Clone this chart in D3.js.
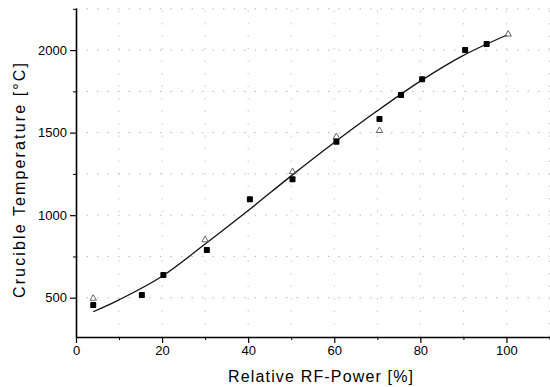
<!DOCTYPE html>
<html><head><meta charset="utf-8">
<script src="https://cdn.jsdelivr.net/npm/d3@7"></script>
<style>body{margin:0;background:#fff}svg{display:block}</style>
</head><body>
<script>
// Data
const powerA = [4, 15.3, 20.3, 30.4, 40.4, 50.3, 60.5, 70.5, 75.5, 80.4, 90.4, 95.4];
const tempA  = [456, 516, 637, 789, 1096, 1217, 1445, 1583, 1728, 1823, 2001, 2037];
const powerB = [4, 30, 50.3, 60.5, 70.5, 100.4];
const tempB  = [496, 850, 1263, 1475, 1512, 2096];
const fitX = [4, 10, 20, 30, 40, 50, 60, 70, 80, 90, 100];
const fitY = [415, 487, 630, 825, 1028, 1238, 1440, 1632, 1812, 1968, 2090];
const xTicks = [0, 20, 40, 60, 80, 100];
const yTicks = [500, 1000, 1500, 2000];
const xMinor = [10, 30, 50, 70, 90, 110];
const yMinor = [750, 1250, 1750, 2250];

const W = 550, H = 387;
const svg = d3.select("body").append("svg").attr("width", W).attr("height", H);
const x = d3.scaleLinear().domain([0, 110]).range([76, 549.5]);
const y = d3.scaleLinear().domain([262, 2255]).range([337, 8]);

// grid
const gridX = d3.range(10, 111, 10);
const gridY = d3.range(500, 2251, 250);
svg.append("g").selectAll("line").data(gridY).join("line")
  .attr("x1", x(0)).attr("x2", x(110)).attr("y1", d => y(d)).attr("y2", d => y(d))
  .attr("stroke", "#aaa").attr("stroke-width", 0.8).attr("stroke-dasharray", "1.5 9");
svg.append("g").selectAll("line").data(gridX).join("line")
  .attr("y1", y(262)).attr("y2", y(2255)).attr("x1", d => x(d)).attr("x2", d => x(d))
  .attr("stroke", "#bbb").attr("stroke-width", 0.8).attr("stroke-dasharray", "1.5 11");

// axes
const font = "Liberation Sans, Arial, sans-serif";
const xAxis = svg.append("g").attr("transform", `translate(0,${y(262)})`)
  .call(d3.axisBottom(x).tickValues(xTicks).tickFormat(d3.format("d")).tickSize(6).tickPadding(3).tickSizeOuter(0));
xAxis.select(".domain").attr("stroke-width", 1.6);
xAxis.selectAll("line").attr("stroke-width", 1.2);
xAxis.selectAll("text").attr("font-size", 13).attr("font-family", font).attr("fill", "#000");
svg.append("g").attr("transform", `translate(0,${y(262)})`)
  .call(d3.axisBottom(x).tickValues(xMinor).tickSize(3).tickFormat("").tickSizeOuter(0))
  .select(".domain").remove();

const yAxis = svg.append("g").attr("transform", `translate(${x(0)},0)`)
  .call(d3.axisLeft(y).tickValues(yTicks).tickFormat(d3.format("d")).tickSize(6).tickPadding(3).tickSizeOuter(0));
yAxis.select(".domain").attr("stroke-width", 1.6);
yAxis.selectAll("line").attr("stroke-width", 1.2);
yAxis.selectAll("text").attr("font-size", 13).attr("font-family", font).attr("fill", "#000");
svg.append("g").attr("transform", `translate(${x(0)},0)`)
  .call(d3.axisLeft(y).tickValues(yMinor).tickSize(3).tickFormat("").tickSizeOuter(0))
  .select(".domain").remove();

// titles
svg.append("text").attr("x", 228).attr("y", 382).attr("text-anchor", "start")
  .attr("font-size", 16).attr("font-family", font)
  .attr("textLength", 185).attr("lengthAdjust", "spacing").text("Relative RF-Power [%]");
svg.append("text").attr("transform", "translate(25,298) rotate(-90)").attr("text-anchor", "start")
  .attr("font-size", 16).attr("font-family", font)
  .attr("textLength", 235).attr("lengthAdjust", "spacing").text("Crucible Temperature [°C]");

// fit line
const line = d3.line().x((d, i) => x(fitX[i])).y(d => y(d)).curve(d3.curveCatmullRom);
svg.append("path").datum(fitY).attr("d", line).attr("fill", "none")
  .attr("stroke", "#111").attr("stroke-width", 1.3);

// series B (small open triangles)
const sym = d3.symbol().type(d3.symbolTriangle).size(18);
svg.append("g").selectAll("path").data(tempB).join("path")
  .attr("d", sym).attr("transform", (d, i) => `translate(${x(powerB[i])},${y(d)})`)
  .attr("fill", "none").attr("stroke", "#555").attr("stroke-width", 0.9);

// series A (filled squares)
svg.append("g").selectAll("rect").data(tempA).join("rect")
  .attr("x", (d, i) => x(powerA[i]) - 3).attr("y", d => y(d) - 3)
  .attr("width", 6).attr("height", 6).attr("rx", 0.8).attr("fill", "#000");
</script>
</body></html>
